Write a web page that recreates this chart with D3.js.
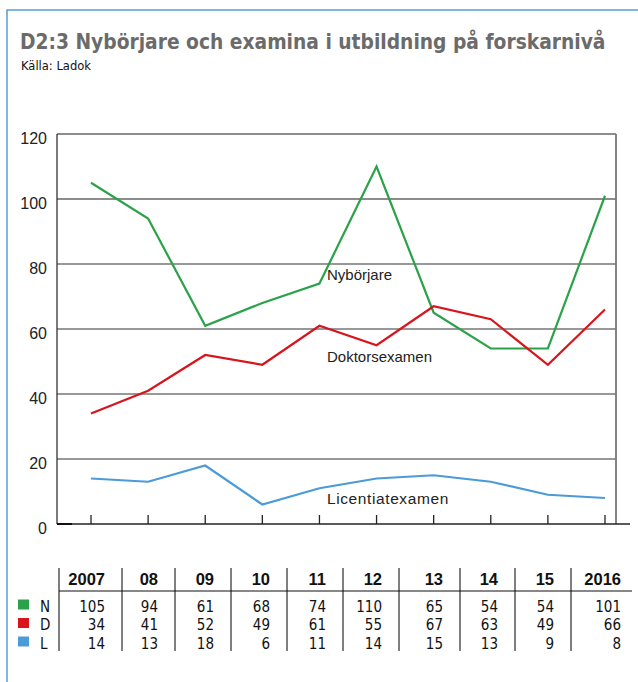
<!DOCTYPE html>
<html>
<head>
<meta charset="utf-8">
<script src="https://cdn.jsdelivr.net/npm/d3@7"></script>
<style>
  html, body { margin: 0; padding: 0; background: #fff; }
  svg { display: block; }
</style>
</head>
<body>
<div id="chart"></div>
<script>
// ========================
// DATA
// ========================
const years = ["2007", "08", "09", "10", "11", "12", "13", "14", "15", "2016"];
const nybörjare = [105, 94, 61, 68, 74, 110, 65, 54, 54, 101];
const doktorsexamen = [34, 41, 52, 49, 61, 55, 67, 63, 49, 66];
const licentiatexamen = [14, 13, 18, 6, 11, 14, 15, 13, 9, 8];
const yTicks = [0, 20, 40, 60, 80, 100, 120];

const seriesList = [
    { key: "N", label: "Nybörjare", values: nybörjare, color: "#2ba24a" },
    { key: "D", label: "Doktorsexamen", values: doktorsexamen, color: "#d8141c" },
    { key: "L", label: "Licentiatexamen", values: licentiatexamen, color: "#4a9bd8" }
];

// ========================
// LAYOUT
// ========================
const W = 638, H = 682;
const plot = { left: 57, right: 616, top: 134, bottom: 524 };
const colEdges = [59, 122, 175, 231, 287, 343, 399, 460, 515, 571, 638];
const rowBase = [611.5, 630, 648.5];
const narrow = "'Liberation Sans Narrow', 'DejaVu Sans Condensed', sans-serif";
const sans = "'Liberation Sans', Arial, sans-serif";

const svg = d3.select("#chart").append("svg")
    .attr("width", W).attr("height", H);

// blue frame
svg.append("path")
    .attr("d", `M7,${H} L7,10 L${W},10`)
    .attr("fill", "none")
    .attr("stroke", "#5b9bd5")
    .attr("stroke-width", 1.5);

// fit a text to a width by scaling its font size
function fitWidth(sel, target) {
    const len = sel.node().getComputedTextLength();
    const fs = +sel.attr("font-size");
    sel.attr("font-size", fs * target / len);
}

// title + source
const title = svg.append("text")
    .attr("x", 20).attr("y", 49)
    .attr("font-family", narrow)
    .attr("font-weight", "bold")
    .attr("font-size", 22)
    .attr("fill", "#6b6b6b")
    .text("D2:3 Nybörjare och examina i utbildning på forskarnivå");
fitWidth(title, 586);

const source = svg.append("text")
    .attr("x", 21).attr("y", 70)
    .attr("font-family", narrow)
    .attr("font-size", 13)
    .attr("fill", "#111")
    .text("Källa: Ladok");
fitWidth(source, 70);

// ========================
// SCALES
// ========================
const x = d3.scalePoint().domain(years).range([91, 605]);
const y = d3.scaleLinear().domain([0, 120]).range([plot.bottom, plot.top]);

// gridlines
svg.append("g")
    .selectAll("line")
    .data(yTicks.filter(d => d > 0))
    .enter().append("line")
    .attr("x1", plot.left).attr("x2", plot.right)
    .attr("y1", d => y(d)).attr("y2", d => y(d))
    .attr("stroke", d => d === 120 || d === 100 ? "#666" : "#333")
    .attr("stroke-width", d => d === 120 || d === 100 ? 1.5 : 1.1);

// left + right axis lines
svg.append("line")
    .attr("x1", plot.left).attr("x2", plot.left)
    .attr("y1", plot.top).attr("y2", plot.bottom)
    .attr("stroke", "#333").attr("stroke-width", 1.3);
svg.append("line")
    .attr("x1", plot.right).attr("x2", plot.right)
    .attr("y1", plot.top).attr("y2", plot.bottom)
    .attr("stroke", "#777").attr("stroke-width", 1.8);

// baseline
svg.append("line")
    .attr("x1", plot.left).attr("x2", 630)
    .attr("y1", plot.bottom).attr("y2", plot.bottom)
    .attr("stroke", "#222").attr("stroke-width", 1.3);
svg.append("line")
    .attr("x1", plot.left).attr("x2", 72)
    .attr("y1", plot.bottom).attr("y2", plot.bottom)
    .attr("stroke", "#111").attr("stroke-width", 2);

// x ticks
svg.append("g")
    .selectAll("line")
    .data(years)
    .enter().append("line")
    .attr("x1", d => x(d)).attr("x2", d => x(d))
    .attr("y1", plot.bottom - 9).attr("y2", plot.bottom)
    .attr("stroke", "#222").attr("stroke-width", 1.3);

// y labels
svg.append("g")
    .selectAll("text")
    .data(yTicks)
    .enter().append("text")
    .attr("x", 47)
    .attr("y", d => y(d) + 10)
    .attr("text-anchor", "end")
    .attr("font-family", sans)
    .attr("font-size", 16)
    .attr("fill", "#222")
    .text(d => d);

// lines
const line = d3.line()
    .x((d, i) => x(years[i]))
    .y(d => y(d));

svg.append("g")
    .selectAll("path")
    .data(seriesList)
    .enter().append("path")
    .attr("d", d => line(d.values))
    .attr("fill", "none")
    .attr("stroke", d => d.color)
    .attr("stroke-width", 2.2)
    .attr("stroke-linejoin", "miter");

// line labels
const lineLabels = [
    { text: "Nybörjare", y: 280, size: 15, spacing: 0 },
    { text: "Doktorsexamen", y: 361.5, size: 15, spacing: 0 },
    { text: "Licentiatexamen", y: 504, size: 15.5, spacing: 0.6 }
];
svg.append("g")
    .selectAll("text")
    .data(lineLabels)
    .enter().append("text")
    .attr("x", 327)
    .attr("y", d => d.y)
    .attr("font-family", sans)
    .attr("font-size", d => d.size)
    .attr("letter-spacing", d => d.spacing)
    .attr("fill", "#222")
    .text(d => d.text);

// ========================
// TABLE
// ========================
const table = svg.append("g");

// column separators
table.selectAll("line.sep")
    .data(colEdges.slice(0, -1))
    .enter().append("line")
    .attr("class", "sep")
    .attr("x1", d => d).attr("x2", d => d)
    .attr("y1", 568).attr("y2", 651)
    .attr("stroke", "#555").attr("stroke-width", 1.5);

// header underline
table.append("line")
    .attr("x1", colEdges[0]).attr("x2", 632)
    .attr("y1", 591).attr("y2", 591)
    .attr("stroke", "#111").attr("stroke-width", 1.2);

const colRight = (i) => colEdges[i + 1] - 17;

// headers
table.selectAll("text.head")
    .data(years)
    .enter().append("text")
    .attr("class", "head")
    .attr("x", (d, i) => colRight(i))
    .attr("y", 585)
    .attr("text-anchor", "end")
    .attr("font-family", sans)
    .attr("font-weight", "bold")
    .attr("font-size", 16.5)
    .attr("fill", "#111")
    .text(d => d);

// rows
seriesList.forEach((s, r) => {
    table.append("rect")
        .attr("x", 18).attr("y", rowBase[r] - 12)
        .attr("width", 11).attr("height", 10)
        .attr("fill", s.color);
    table.append("text")
        .attr("x", 40).attr("y", rowBase[r])
        .attr("font-family", narrow)
        .attr("font-size", 15)
        .attr("fill", "#111")
        .text(s.key);
    table.selectAll(`text.v${s.key}`)
        .data(s.values)
        .enter().append("text")
        .attr("class", `v${s.key}`)
        .attr("x", (d, i) => colRight(i))
        .attr("y", rowBase[r])
        .attr("text-anchor", "end")
        .attr("font-family", narrow)
        .attr("font-size", 15)
        .attr("fill", "#111")
        .text(d => d);
});
</script>
</body>
</html>
